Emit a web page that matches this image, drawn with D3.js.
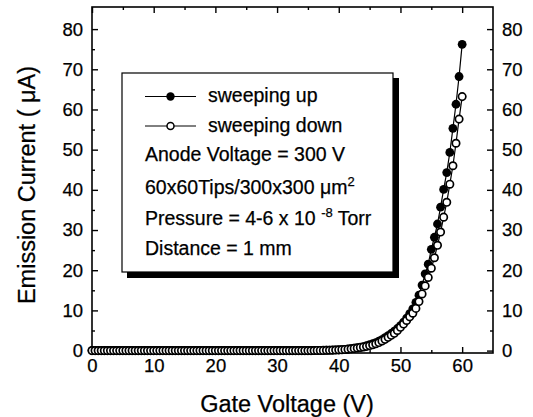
<!DOCTYPE html>
<html>
<head>
<meta charset="utf-8">
<script src="https://cdn.jsdelivr.net/npm/d3@7"></script>
<style>
body { margin: 0; background: #fff; }
svg { display: block; }
text { font-family: "Liberation Sans", Arial, sans-serif; fill: #000; stroke: #000; stroke-width: 0.25; }
</style>
</head>
<body>
<script>
// gate voltage sweep (V)
let gateVoltage = [
  0, 0.5, 1, 1.5, 2, 2.5, 3, 3.5, 4, 4.5,
  5, 5.5, 6, 6.5, 7, 7.5, 8, 8.5, 9, 9.5,
  10, 10.5, 11, 11.5, 12, 12.5, 13, 13.5, 14, 14.5,
  15, 15.5, 16, 16.5, 17, 17.5, 18, 18.5, 19, 19.5,
  20, 20.5, 21, 21.5, 22, 22.5, 23, 23.5, 24, 24.5,
  25, 25.5, 26, 26.5, 27, 27.5, 28, 28.5, 29, 29.5,
  30, 30.5, 31, 31.5, 32, 32.5, 33, 33.5, 34, 34.5,
  35, 35.5, 36, 36.5, 37, 37.5, 38, 38.5, 39, 39.5,
  40, 40.5, 41, 41.5, 42, 42.5, 43, 43.5, 44, 44.5,
  45, 45.5, 46, 46.5, 47, 47.5, 48, 48.5, 49, 49.5,
  50, 50.5, 51, 51.5, 52, 52.5, 53, 53.5, 54, 54.5,
  55, 55.5, 56, 56.5, 57, 57.5, 58, 58.5, 59, 59.5,
  60
]

// emission current (uA), sweeping up
let currentUp = [
  0, 0, 0, 0, 0, 0, 0, 0, 0, 0,
  0, 0, 0, 0, 0, 0, 0, 0, 0, 0,
  0, 0, 0, 0, 0, 0, 0, 0, 0, 0,
  0, 0, 0, 0, 0, 0, 0, 0, 0, 0,
  0, 0, 0, 0, 0, 0, 0, 0, 0, 0,
  0, 0, 0, 0, 0, 0, 0, 0, 0, 0,
  0, 0, 0, 0, 0, 0, 0, 0, 0, 0,
  0, 0, 0.02, 0.03, 0.05, 0.06, 0.08, 0.1, 0.13, 0.16,
  0.2, 0.25, 0.32, 0.4, 0.5, 0.6, 0.72, 0.85, 1.0, 1.2,
  1.45, 1.7, 2.0, 2.35, 2.75, 3.2, 3.7, 4.25, 4.85, 5.5,
  6.2, 7.1, 8.1, 9.2, 10.4, 12.0, 13.8, 16.3, 19.1, 21.5,
  25.2, 28.2, 31.5, 35.7, 40.1, 44.3, 49.3, 55.3, 61.3, 68.2,
  76.2
]

// emission current (uA), sweeping down
let currentDown = [
  0, 0, 0, 0, 0, 0, 0, 0, 0, 0,
  0, 0, 0, 0, 0, 0, 0, 0, 0, 0,
  0, 0, 0, 0, 0, 0, 0, 0, 0, 0,
  0, 0, 0, 0, 0, 0, 0, 0, 0, 0,
  0, 0, 0, 0, 0, 0, 0, 0, 0, 0,
  0, 0, 0, 0, 0, 0, 0, 0, 0, 0,
  0, 0, 0, 0, 0, 0, 0, 0, 0, 0,
  0, 0, 0.02, 0.03, 0.04, 0.05, 0.07, 0.09, 0.11, 0.14,
  0.18, 0.22, 0.28, 0.35, 0.45, 0.55, 0.65, 0.78, 0.9, 1.05,
  1.25, 1.45, 1.7, 2.0, 2.4, 2.8, 3.3, 3.8, 4.3, 5.0,
  5.8, 6.6, 7.5, 8.4, 9.3, 10.5, 12.2, 14.1, 16.1, 18.2,
  20.5, 23.1, 26.2, 29.5, 33.2, 36.9, 41.4, 46.0, 51.6, 57.6,
  63.2
]

let xTicks = [0, 10, 20, 30, 40, 50, 60]
let xMinorTicks = [5, 15, 25, 35, 45, 55]
let yTicks = [0, 10, 20, 30, 40, 50, 60, 70, 80]
let yMinorTicks = [5, 15, 25, 35, 45, 55, 65, 75]

let w = 533
let h = 417
let font = '"Liberation Sans", Arial, sans-serif'

let x = d3.scaleLinear().domain([0, 65]).range([92, 493])
let y = d3.scaleLinear().domain([-0.6, 85.5]).range([353, 7])

let svg = d3.select('body').append('svg').attr('width', w).attr('height', h)

function styleAxis(g, size) {
  g.attr('font-family', font).attr('font-size', size)
  g.select('.domain').remove()
  g.selectAll('line').attr('stroke', '#000').attr('stroke-width', 1.4)
}

// bottom
svg.append('g').attr('transform', 'translate(0,353)')
  .call(d3.axisBottom(x).tickValues(xTicks).tickSizeInner(-6).tickSizeOuter(0).tickPadding(6))
  .call(g => styleAxis(g, 18.5))
svg.append('g').attr('transform', 'translate(0,353)')
  .call(d3.axisBottom(x).tickValues(xMinorTicks).tickSizeInner(-3).tickSizeOuter(0).tickFormat(''))
  .call(g => styleAxis(g, 18.5))
// top
svg.append('g').attr('transform', 'translate(0,7)')
  .call(d3.axisTop(x).tickValues(xTicks).tickSizeInner(-6).tickSizeOuter(0).tickFormat(''))
  .call(g => styleAxis(g, 18.5))
svg.append('g').attr('transform', 'translate(0,7)')
  .call(d3.axisTop(x).tickValues(xMinorTicks).tickSizeInner(-3).tickSizeOuter(0).tickFormat(''))
  .call(g => styleAxis(g, 18.5))
// left
svg.append('g').attr('transform', 'translate(92,0)')
  .call(d3.axisLeft(y).tickValues(yTicks).tickSizeInner(-6).tickSizeOuter(0).tickPadding(9))
  .call(g => styleAxis(g, 18.5))
svg.append('g').attr('transform', 'translate(92,0)')
  .call(d3.axisLeft(y).tickValues(yMinorTicks).tickSizeInner(-3).tickSizeOuter(0).tickFormat(''))
  .call(g => styleAxis(g, 18.5))
// right
svg.append('g').attr('transform', 'translate(493,0)')
  .call(d3.axisRight(y).tickValues(yTicks).tickSizeInner(-6).tickSizeOuter(0).tickPadding(9))
  .call(g => styleAxis(g, 18.5))
svg.append('g').attr('transform', 'translate(493,0)')
  .call(d3.axisRight(y).tickValues(yMinorTicks).tickSizeInner(-3).tickSizeOuter(0).tickFormat(''))
  .call(g => styleAxis(g, 18.5))

// frame
svg.append('rect')
  .attr('x', x(0)).attr('y', y(85.5))
  .attr('width', x(65) - x(0)).attr('height', y(-0.6) - y(85.5))
  .attr('fill', 'none').attr('stroke', '#000').attr('stroke-width', 1.6)

// axis titles
svg.append('text').attr('x', 287).attr('y', 412).attr('text-anchor', 'middle')
  .attr('font-size', 23.5).text('Gate Voltage (V)')
svg.append('text').attr('transform', 'translate(35,185) rotate(-90)').attr('text-anchor', 'middle')
  .attr('font-size', 23.5).text('Emission Current ( \u03bcA)')

// legend box with shadow
let lg = svg.append('g')
lg.append('rect').attr('x', 127).attr('y', 78).attr('width', 272).attr('height', 200).attr('fill', '#000')
lg.append('rect').attr('x', 122).attr('y', 73).attr('width', 271).attr('height', 199)
  .attr('fill', '#fff').attr('stroke', '#000').attr('stroke-width', 1.2)

// data
let up = gateVoltage.map((v, i) => [v, currentUp[i]])
let down = gateVoltage.map((v, i) => [v, currentDown[i]])
let line = d3.line().x(d => x(d[0])).y(d => y(d[1]))

svg.append('path').attr('d', line(up)).attr('fill', 'none').attr('stroke', '#000').attr('stroke-width', 1.2)
svg.selectAll('circle.up').data(up).enter().append('circle').attr('class', 'up')
  .attr('cx', d => x(d[0])).attr('cy', d => y(d[1])).attr('r', 4.4).attr('fill', '#000')

svg.append('path').attr('d', line(down)).attr('fill', 'none').attr('stroke', '#000').attr('stroke-width', 1.2)
svg.selectAll('circle.down').data(down).enter().append('circle').attr('class', 'down')
  .attr('cx', d => x(d[0])).attr('cy', d => y(d[1])).attr('r', 3.7)
  .attr('fill', '#fff').attr('stroke', '#000').attr('stroke-width', 1.7)

// legend content
let fs = 19.5
lg.append('line').attr('x1', 145).attr('x2', 196).attr('y1', 96.5).attr('y2', 96.5).attr('stroke', '#000')
lg.append('circle').attr('cx', 170.5).attr('cy', 96.5).attr('r', 4.2).attr('fill', '#000')
lg.append('text').attr('x', 208).attr('y', 102).attr('font-size', fs).text('sweeping up')

lg.append('line').attr('x1', 145).attr('x2', 196).attr('y1', 126).attr('y2', 126).attr('stroke', '#000')
lg.append('circle').attr('cx', 170.5).attr('cy', 126).attr('r', 3.5).attr('fill', '#fff').attr('stroke', '#000').attr('stroke-width', 1.5)
lg.append('text').attr('x', 208).attr('y', 131.5).attr('font-size', fs).text('sweeping down')

lg.append('text').attr('x', 145).attr('y', 161).attr('font-size', fs).text('Anode Voltage = 300 V')

let t1 = lg.append('text').attr('x', 145).attr('y', 194).attr('font-size', fs)
t1.append('tspan').text('60x60Tips/300x300 \u03bcm')
t1.append('tspan').attr('dy', -8).attr('font-size', 13).text('2')

let t2 = lg.append('text').attr('x', 145).attr('y', 225).attr('font-size', fs)
t2.append('tspan').text('Pressure = 4-6 x 10 ')
t2.append('tspan').attr('dy', -8).attr('font-size', 13).text('-8')
t2.append('tspan').attr('dy', 8).text(' Torr')

lg.append('text').attr('x', 145).attr('y', 255).attr('font-size', fs).text('Distance = 1 mm')
</script>
</body>
</html>
